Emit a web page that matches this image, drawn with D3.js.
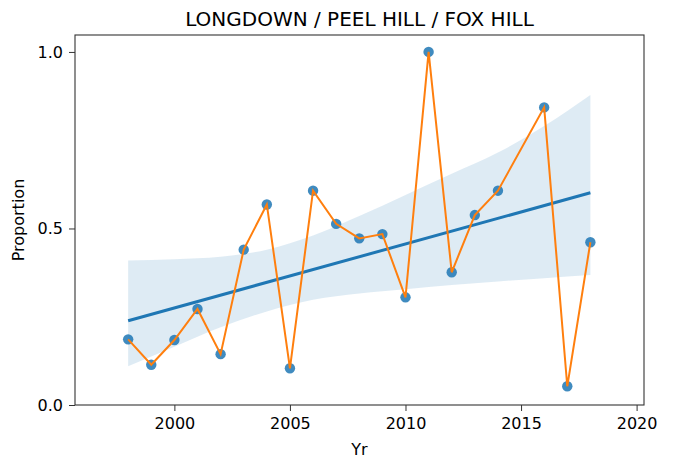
<!DOCTYPE html>
<html>
<head>
<meta charset="utf-8">
<script src="https://cdn.jsdelivr.net/npm/d3@7"></script>
<style>
  body { margin: 0; background: #fff; }
  text { font-family: "DejaVu Sans", sans-serif; fill: #000; }
</style>
</head>
<body>
<svg id="chart" width="674" height="459"></svg>
<script>
/*** DATA ***/
const years = [1998, 1999, 2000, 2001, 2002, 2003, 2004, 2005, 2006, 2007, 2008,
               2009, 2010, 2011, 2012, 2013, 2014, 2016, 2017, 2018];
const proportion = [0.186, 0.114, 0.184, 0.272, 0.144, 0.440, 0.568, 0.104, 0.607, 0.513, 0.472,
                    0.484, 0.305, 1.000, 0.376, 0.538, 0.607, 0.843, 0.053, 0.461];

// confidence band
const bandYears = [1998, 2000, 2002, 2004, 2006, 2008, 2010, 2012, 2014, 2016, 2018];
const bandLower = [0.110, 0.165, 0.220, 0.265, 0.298, 0.316, 0.328, 0.340, 0.350, 0.359, 0.368];
const bandUpper = [0.409, 0.413, 0.420, 0.440, 0.480, 0.535, 0.595, 0.655, 0.715, 0.790, 0.878];

const xTicks = [2000, 2005, 2010, 2015, 2020];
const yTicks = [0.0, 0.5, 1.0];

/*** LAYOUT ***/
const plot = {left: 75, right: 644, top: 35, bottom: 405};

const svg = d3.select('#chart');

const x = d3.scaleLinear().domain([1995.7, 2020.32]).range([plot.left, plot.right]);
const y = d3.scaleLinear().domain([0, 1.048]).range([plot.bottom, plot.top]);

// --- least squares fit ---
const mx = d3.mean(years), my = d3.mean(proportion);
const slope = d3.sum(years, (d, i) => (d - mx) * (proportion[i] - my)) /
              d3.sum(years, d => (d - mx) * (d - mx));
const fit = t => my + slope * (t - mx);
const fitYears = [d3.min(years), d3.max(years)];

// band
const band = bandYears.map((t, i) => ({t, lo: bandLower[i], hi: bandUpper[i]}));
svg.append('path')
  .datum(band)
  .attr('fill', '#1f77b4')
  .attr('fill-opacity', 0.15)
  .attr('d', d3.area().x(d => x(d.t)).y0(d => y(d.lo)).y1(d => y(d.hi)).curve(d3.curveMonotoneX));

// regression line
svg.append('path')
  .datum(fitYears)
  .attr('fill', 'none')
  .attr('stroke', '#1f77b4')
  .attr('stroke-width', 3)
  .attr('d', d3.line().x(d => x(d)).y(d => y(fit(d))));

// scatter
const pts = years.map((t, i) => ({t, v: proportion[i]}));
svg.append('g').selectAll('circle')
  .data(pts)
  .enter().append('circle')
    .attr('cx', d => x(d.t))
    .attr('cy', d => y(d.v))
    .attr('r', 5.2)
    .attr('fill', '#1f77b4')
    .attr('fill-opacity', 0.85);

// orange series line
svg.append('path')
  .datum(pts)
  .attr('fill', 'none')
  .attr('stroke', '#ff7f0e')
  .attr('stroke-width', 2)
  .attr('d', d3.line().x(d => x(d.t)).y(d => y(d.v)));

/*** AXES ***/
const xAxis = svg.append('g')
  .attr('transform', `translate(0,${plot.bottom})`)
  .call(d3.axisBottom(x).tickValues(xTicks).tickFormat(d3.format('d')).tickSize(6).tickPadding(7).tickSizeOuter(0));
const yAxis = svg.append('g')
  .attr('transform', `translate(${plot.left},0)`)
  .call(d3.axisLeft(y).tickValues(yTicks).tickFormat(d3.format('.1f')).tickSize(6).tickPadding(6).tickSizeOuter(0));

[xAxis, yAxis].forEach(g => {
  g.select('.domain').remove();
  g.selectAll('line').attr('stroke', '#333').attr('stroke-width', 1);
  g.selectAll('text').style('font-family', '"DejaVu Sans", sans-serif').style('font-size', '16px').attr('fill', '#222');
});

// frame
svg.append('rect')
  .attr('x', plot.left).attr('y', plot.top)
  .attr('width', plot.right - plot.left).attr('height', plot.bottom - plot.top)
  .attr('fill', 'none').attr('stroke', '#333').attr('stroke-width', 1.1);

/*** LABELS ***/
svg.append('text')
  .attr('x', (plot.left + plot.right) / 2).attr('y', 26)
  .attr('text-anchor', 'middle')
  .style('font-size', '20px')
  .text('LONGDOWN / PEEL HILL / FOX HILL');

svg.append('text')
  .attr('x', (plot.left + plot.right) / 2).attr('y', 455)
  .attr('text-anchor', 'middle')
  .style('font-size', '16px')
  .attr('fill', '#222')
  .text('Yr');

svg.append('text')
  .attr('transform', `translate(24,${(plot.top + plot.bottom) / 2}) rotate(-90)`)
  .attr('text-anchor', 'middle')
  .style('font-size', '16px')
  .attr('fill', '#222')
  .text('Proportion');
</script>
</body>
</html>
